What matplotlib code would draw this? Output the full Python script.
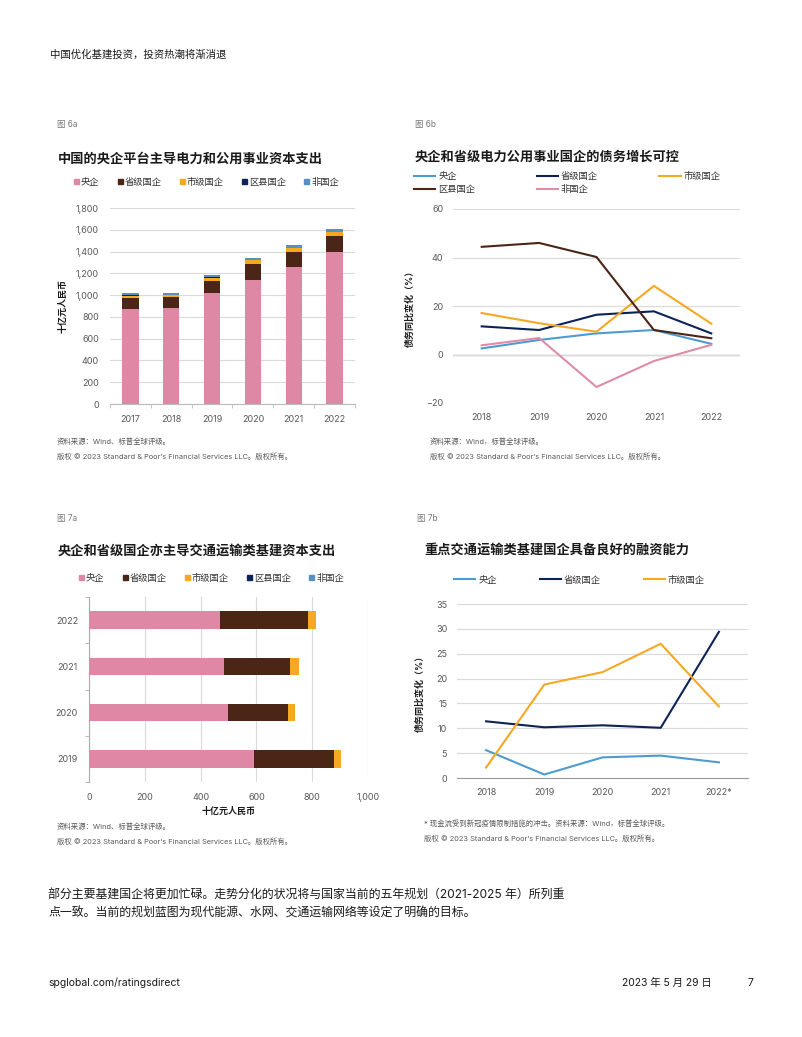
import matplotlib.pyplot as plt
from matplotlib.patches import Patch
from matplotlib.lines import Line2D
import numpy as np

plt.rcParams['font.family'] = ['Inter', 'Noto Sans CJK SC', 'DejaVu Sans']

W, H = 802, 1037

# 图 6a
years_6a = ['2017', '2018', '2019', '2020', '2021', '2022']
central_6a = [875, 880, 1015, 1138, 1254, 1400]
provincial_6a = [95, 100, 116, 146, 144, 144]
city_6a = [25, 18, 28, 34, 36, 37]
county_6a = [3, 3, 3, 3, 3, 3]
private_6a = [18, 21, 21, 18, 19, 22]

# 图 6b
years_6b = ['2018', '2019', '2020', '2021', '2022']
central_6b = [2.5, 6.0, 8.7, 10.1, 4.4]
provincial_6b = [11.6, 10.1, 16.4, 17.8, 8.7]
city_6b = [17.1, 12.9, 9.4, 28.3, 12.7]
county_6b = [44.4, 46.0, 40.2, 10.1, 6.7]
private_6b = [3.8, 6.8, -13.4, -2.7, 4.0]

# 图 7a
years_7a = ['2019', '2020', '2021', '2022']
central_7a = [591, 497, 485, 471]
provincial_7a = [287, 217, 234, 313]
city_7a = [25, 26, 33, 28]
county_7a = [0, 0, 0, 0]
private_7a = [0, 0, 0, 0]

# 图 7b
years_7b = ['2018', '2019', '2020', '2021', '2022*']
central_7b = [5.6, 0.7, 4.15, 4.5, 3.15]
provincial_7b = [11.4, 10.2, 10.6, 10.1, 29.4]
city_7b = [2.1, 18.8, 21.3, 27.0, 14.4]

PINK = '#DE88A6'
BROWN = '#4B2515'
ORANGE = '#F7A823'
NAVY = '#0B2357'
BLUE = '#4E9BCF'
STEEL = '#5591C4'
GRID = '#DADADA'
TXT = '#595959'
DARK = '#1a1a1a'


def rect(x0, y0, x1, y1):
    return [x0 / W, 1 - y1 / H, (x1 - x0) / W, (y1 - y0) / H]


def ftext(x, y, s, **kw):
    kw.setdefault('va', 'center')
    return fig.text(x / W, 1 - y / H, s, **kw)


fig = plt.figure(figsize=(W / 100, H / 100), dpi=100)

ftext(50, 55, '中国优化基建投资，投资热潮将渐消退', fontsize=7.5, color=DARK)

bar_names = ['央企', '省级国企', '市级国企', '区县国企', '非国企']
bar_colors = [PINK, BROWN, ORANGE, NAVY, STEEL]


def square_legend(x, y, spacing):
    handles = [Patch(color=c, label=n) for n, c in zip(bar_names, bar_colors)]
    fig.legend(handles=handles, loc='center left', bbox_to_anchor=(x / W, 1 - y / H),
               ncol=5, frameon=False, fontsize=6.7, handlelength=0.55, handleheight=0.55,
               handletextpad=0.2, columnspacing=spacing, labelcolor='#333333',
               borderaxespad=0, borderpad=0)


def sources(x, y, first):
    ftext(x, y, first, fontsize=5.3, color=TXT)
    ftext(x, y + 15, '版权 © 2023 Standard & Poor\u2019s Financial Services LLC。版权所有。',
          fontsize=5.3, color=TXT)


# ---------- 6a ----------
ftext(57, 125, '图 6a', fontsize=6, color='#777777')
ftext(58, 159, '中国的央企平台主导电力和公用事业资本支出', fontsize=9.5, fontweight='bold', color=DARK)
square_legend(74, 182, 1.95)
ax = fig.add_axes(rect(110, 208, 355, 404))
x = np.arange(len(years_6a))
bottom = np.zeros(len(years_6a))
for vals, c in zip([central_6a, provincial_6a, city_6a, county_6a, private_6a], bar_colors):
    ax.bar(x, vals, 0.4, bottom=bottom, color=c, zorder=3)
    bottom += np.array(vals)
ax.set_ylim(0, 1800)
ax.set_xlim(-0.5, len(years_6a) - 0.5)
ax.set_yticks(range(0, 1801, 200))
ax.set_yticklabels([f'{v:,}' for v in range(0, 1801, 200)])
ax.set_xticks(x)
ax.set_xticklabels(years_6a)
ax.set_xticks(np.arange(-0.5, len(years_6a)), minor=True)
ax.grid(axis='y', color=GRID, lw=0.8, zorder=0)
for s in ['top', 'right', 'left']:
    ax.spines[s].set_visible(False)
ax.spines['bottom'].set_color('#BBBBBB')
ax.tick_params(axis='both', which='major', length=0, labelsize=6.5, labelcolor=TXT, pad=8)
ax.tick_params(axis='x', which='minor', length=3, color='#BBBBBB')
ax.set_ylabel('十亿元人民币', fontsize=6.5, fontweight='bold', color=DARK, labelpad=6)
sources(57, 441, '资料来源：Wind、标普全球评级。')

# ---------- 6b ----------
ftext(415, 125, '图 6b', fontsize=6, color='#777777')
ftext(415, 157, '央企和省级电力公用事业国企的债务增长可控', fontsize=9.5, fontweight='bold', color=DARK)
ax = fig.add_axes(rect(453, 209, 740, 403))
x = np.arange(len(years_6b))
series_6b = [(central_6b, BLUE, '央企'), (provincial_6b, NAVY, '省级国企'), (city_6b, ORANGE, '市级国企'),
             (county_6b, BROWN, '区县国企'), (private_6b, '#E08CA8', '非国企')]
for vals, c, n in series_6b:
    ax.plot(x, vals, color=c, lw=1.5, label=n, zorder=3)
ax.set_ylim(-20, 60)
ax.set_xlim(-0.5, len(years_6b) - 0.5)
ax.set_yticks([-20, 0, 20, 40, 60])
ax.set_xticks(x)
ax.set_xticklabels(years_6b)
ax.grid(axis='y', color=GRID, lw=0.8, zorder=0)
ax.axhline(0, color='#999999', lw=0.9, zorder=1)
for s in ax.spines.values():
    s.set_visible(False)
ax.tick_params(axis='both', length=0, labelsize=6.5, labelcolor=TXT, pad=7)
ax.set_ylabel('债务同比变化（%）', fontsize=6.5, fontweight='bold', color=DARK, labelpad=8)
handles = [Line2D([], [], color=c, lw=1.5, label=n) for _, c, n in series_6b]
# legend fills column by column: reorder so rows read 央企/省级/市级, 区县/非国企
handles = [handles[0], handles[3], handles[1], handles[4], handles[2]]
fig.legend(handles=handles, loc='upper left', bbox_to_anchor=(414 / W, 1 - 172 / H), ncol=3,
           frameon=False, fontsize=6.7, handlelength=2.3, handletextpad=0.3, columnspacing=6.6,
           labelspacing=0.45, labelcolor='#333333', borderaxespad=0, borderpad=0)
sources(430, 441, '资料来源：Wind，标普全球评级。')

# ---------- 7a ----------
ftext(57, 519, '图 7a', fontsize=6, color='#777777')
ftext(58, 551, '央企和省级国企亦主导交通运输类基建资本支出', fontsize=9.5, fontweight='bold', color=DARK)
square_legend(79, 578, 1.95)
ax = fig.add_axes(rect(89, 597, 368, 782))
y = np.arange(len(years_7a))
left = np.zeros(len(years_7a))
for vals, c in zip([central_7a, provincial_7a, city_7a, county_7a, private_7a], bar_colors):
    ax.barh(y, vals, 0.38, left=left, color=c, zorder=3)
    left += np.array(vals)
ax.set_xlim(0, 1000)
ax.set_ylim(-0.5, len(years_7a) - 0.5)
ax.set_xticks(range(0, 1001, 200))
ax.set_xticklabels([f'{v:,}' for v in range(0, 1001, 200)])
ax.set_yticks(y)
ax.set_yticklabels(years_7a)
ax.set_yticks(np.arange(-0.5, len(years_7a)), minor=True)
ax.grid(axis='x', color=GRID, lw=0.8, zorder=0)
for s in ['top', 'right', 'bottom']:
    ax.spines[s].set_visible(False)
ax.spines['left'].set_color('#AAAAAA')
ax.tick_params(axis='both', which='major', length=0, labelsize=6.5, labelcolor=TXT, pad=8)
ax.tick_params(axis='y', which='minor', length=3, color='#AAAAAA')
ax.set_xlabel('十亿元人民币', fontsize=6.5, fontweight='bold', color=DARK, labelpad=3)
sources(57, 826, '资料来源：Wind、标普全球评级。')

# ---------- 7b ----------
ftext(417, 519, '图 7b', fontsize=6, color='#777777')
ftext(424, 550, '重点交通运输类基建国企具备良好的融资能力', fontsize=9.5, fontweight='bold', color=DARK)
ax = fig.add_axes(rect(457, 604, 748, 778))
x = np.arange(len(years_7b))
series_7b = [(central_7b, BLUE, '央企'), (provincial_7b, NAVY, '省级国企'), (city_7b, ORANGE, '市级国企')]
for vals, c, n in series_7b:
    ax.plot(x, vals, color=c, lw=1.5, label=n, zorder=3)
ax.set_ylim(0, 35)
ax.set_xlim(-0.5, len(years_7b) - 0.5)
ax.set_yticks(range(0, 36, 5))
ax.set_xticks(x)
ax.set_xticklabels(years_7b)
ax.grid(axis='y', color=GRID, lw=0.8, zorder=0)
for s in ['top', 'right', 'left']:
    ax.spines[s].set_visible(False)
ax.spines['bottom'].set_color('#999999')
ax.tick_params(axis='both', length=0, labelsize=6.5, labelcolor=TXT, pad=7)
ax.set_ylabel('债务同比变化（%）', fontsize=6.5, fontweight='bold', color=DARK, labelpad=8)
handles = [Line2D([], [], color=c, lw=1.5, label=n) for _, c, n in series_7b]
fig.legend(handles=handles, loc='center left', bbox_to_anchor=(454 / W, 1 - 580 / H), ncol=3,
           frameon=False, fontsize=6.7, handlelength=2.3, handletextpad=0.3, columnspacing=4.6,
           labelcolor='#333333', borderaxespad=0, borderpad=0)
sources(424, 823, '* 现金流受到新冠疫情限制措施的冲击。资料来源：Wind，标普全球评级。')

# ---------- body & footer ----------
ftext(48, 895, '部分主要基建国企将更加忙碌。走势分化的状况将与国家当前的五年规划（2021-2025 年）所列重',
      fontsize=8.6, color=DARK)
ftext(48, 914, '点一致。当前的规划蓝图为现代能源、水网、交通运输网络等设定了明确的目标。',
      fontsize=8.6, color=DARK)
ftext(48, 983, 'spglobal.com/ratingsdirect', fontsize=7.5, color=DARK)
ftext(622, 983, '2023 年 5 月 29 日', fontsize=7.5, color=DARK)
ftext(748, 983, '7', fontsize=7.5, color=DARK)

fig.savefig('out.png', dpi=100)
